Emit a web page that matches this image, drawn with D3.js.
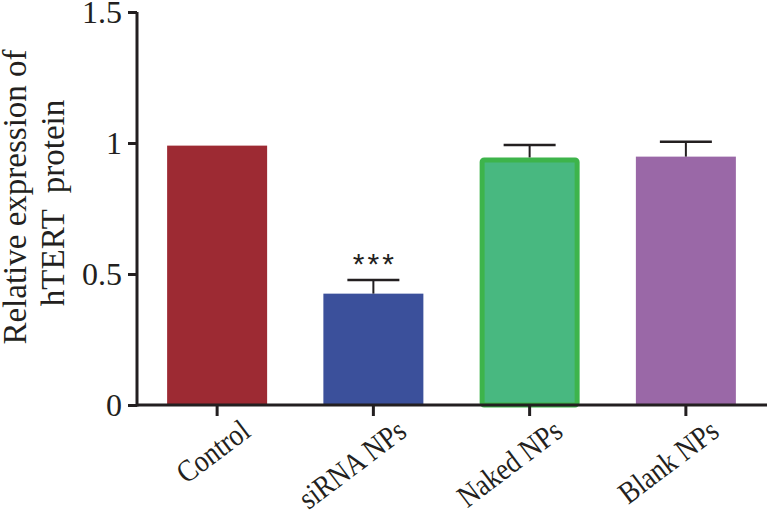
<!DOCTYPE html>
<html><head><meta charset="utf-8">
<script src="https://cdn.jsdelivr.net/npm/d3@7"></script>
<style>body{margin:0;background:#fff}svg{display:block}</style>
</head><body>
<svg id="c" width="769" height="511"></svg>
<script>
const categories = ["Control", "siRNA NPs", "Naked NPs", "Blank NPs"];
const means = [0.99, 0.425, 0.945, 0.948];
const errors = [0, 0.052, 0.047, 0.057];
const yTicks = [0, 0.5, 1, 1.5];
const yTickLabels = ["0", "0.5", "1", "1.5"];
const fills = ["#9d2a33", "#3b509b", "#48b880", "#9a68a7"];
const strokes = [null, null, "#3db44b", null];
const sig = ["", "***", "", ""];

const svg = d3.select("#c");
const ink = "#231f20";
const font = "'Liberation Serif', 'Times New Roman', serif";
const x = d3.scaleBand().domain(categories).range([139, 764]).paddingInner(0.36).paddingOuter(0.18);
const y = d3.scaleLinear().domain([0, 1.5]).range([405, 12]);
const data = categories.map((c, i) => ({c, m: means[i], e: errors[i], f: fills[i], s: strokes[i], sig: sig[i]}));
const bw = 5;

// bars
svg.selectAll("rect.bar").data(data).join("rect")
  .attr("class", "bar")
  .attr("x", d => x(d.c) + (d.s ? bw / 2 : 0))
  .attr("width", d => x.bandwidth() - (d.s ? bw : 0))
  .attr("y", d => y(d.m) + (d.s ? bw / 2 : 0))
  .attr("height", d => y(0) - y(d.m) - (d.s ? bw / 2 : 0))
  .attr("rx", d => d.s ? 2 : 0)
  .attr("fill", d => d.f)
  .attr("stroke", d => d.s || "none")
  .attr("stroke-width", bw);

// error bars
const eb = data.filter(d => d.e > 0);
svg.selectAll("line.ev").data(eb).join("line")
  .attr("x1", d => x(d.c) + x.bandwidth() / 2).attr("x2", d => x(d.c) + x.bandwidth() / 2)
  .attr("y1", d => y(d.m)).attr("y2", d => y(d.m + d.e))
  .attr("stroke", ink).attr("stroke-width", 2);
svg.selectAll("line.ec").data(eb).join("line")
  .attr("x1", d => x(d.c) + x.bandwidth() / 2 - 26).attr("x2", d => x(d.c) + x.bandwidth() / 2 + 26)
  .attr("y1", d => y(d.m + d.e)).attr("y2", d => y(d.m + d.e))
  .attr("stroke", ink).attr("stroke-width", 2.5);

// significance
svg.selectAll("text.sig").data(data.filter(d => d.sig)).join("text")
  .attr("x", d => x(d.c) + x.bandwidth() / 2 + 1.5)
  .attr("y", d => y(d.m + d.e) - 6)
  .attr("text-anchor", "middle")
  .attr("font-family", "'Liberation Sans', Arial, sans-serif")
  .attr("font-size", 30).attr("fill", ink).attr("letter-spacing", 3)
  .text(d => d.sig);

// y axis
const ya = svg.append("g").attr("transform", "translate(137,0)")
  .call(d3.axisLeft(y).tickValues(yTicks).tickFormat((d, i) => yTickLabels[i]).tickSize(9).tickPadding(6));
ya.select(".domain").attr("stroke", ink).attr("stroke-width", 3).attr("d", "M0," + y(1.5) + "V" + (y(0) + 1.5));
ya.selectAll(".tick line").attr("stroke", ink).attr("stroke-width", 3);
ya.selectAll(".tick text").attr("font-family", font).attr("font-size", 32).attr("fill", ink).attr("dy", "0.34em");

// x axis
const xa = svg.append("g").attr("transform", "translate(0,405)")
  .call(d3.axisBottom(x).tickSize(11).tickFormat(""));
xa.select(".domain").attr("stroke", ink).attr("stroke-width", 3).attr("d", "M136,0H767");
xa.selectAll(".tick line").attr("stroke", ink).attr("stroke-width", 3);

svg.append("g").selectAll("text").data(categories).join("text")
  .attr("transform", d => `translate(${x(d) + x.bandwidth() / 2 + 35},435) rotate(-37) scale(0.87,1)`)
  .attr("text-anchor", "end")
  .attr("font-family", font).attr("font-size", 31).attr("fill", ink)
  .text(d => d);

// y title
const yt = svg.append("text")
  .attr("transform", "translate(0,197) rotate(-90)")
  .attr("text-anchor", "middle")
  .attr("font-family", font).attr("font-size", 33).attr("fill", ink);
yt.append("tspan").attr("x", 0).attr("y", 26).text("Relative expression of");
yt.append("tspan").attr("x", -6).attr("y", 64).attr("xml:space", "preserve").style("white-space", "pre").text("hTERT  protein");
</script>
</body></html>
